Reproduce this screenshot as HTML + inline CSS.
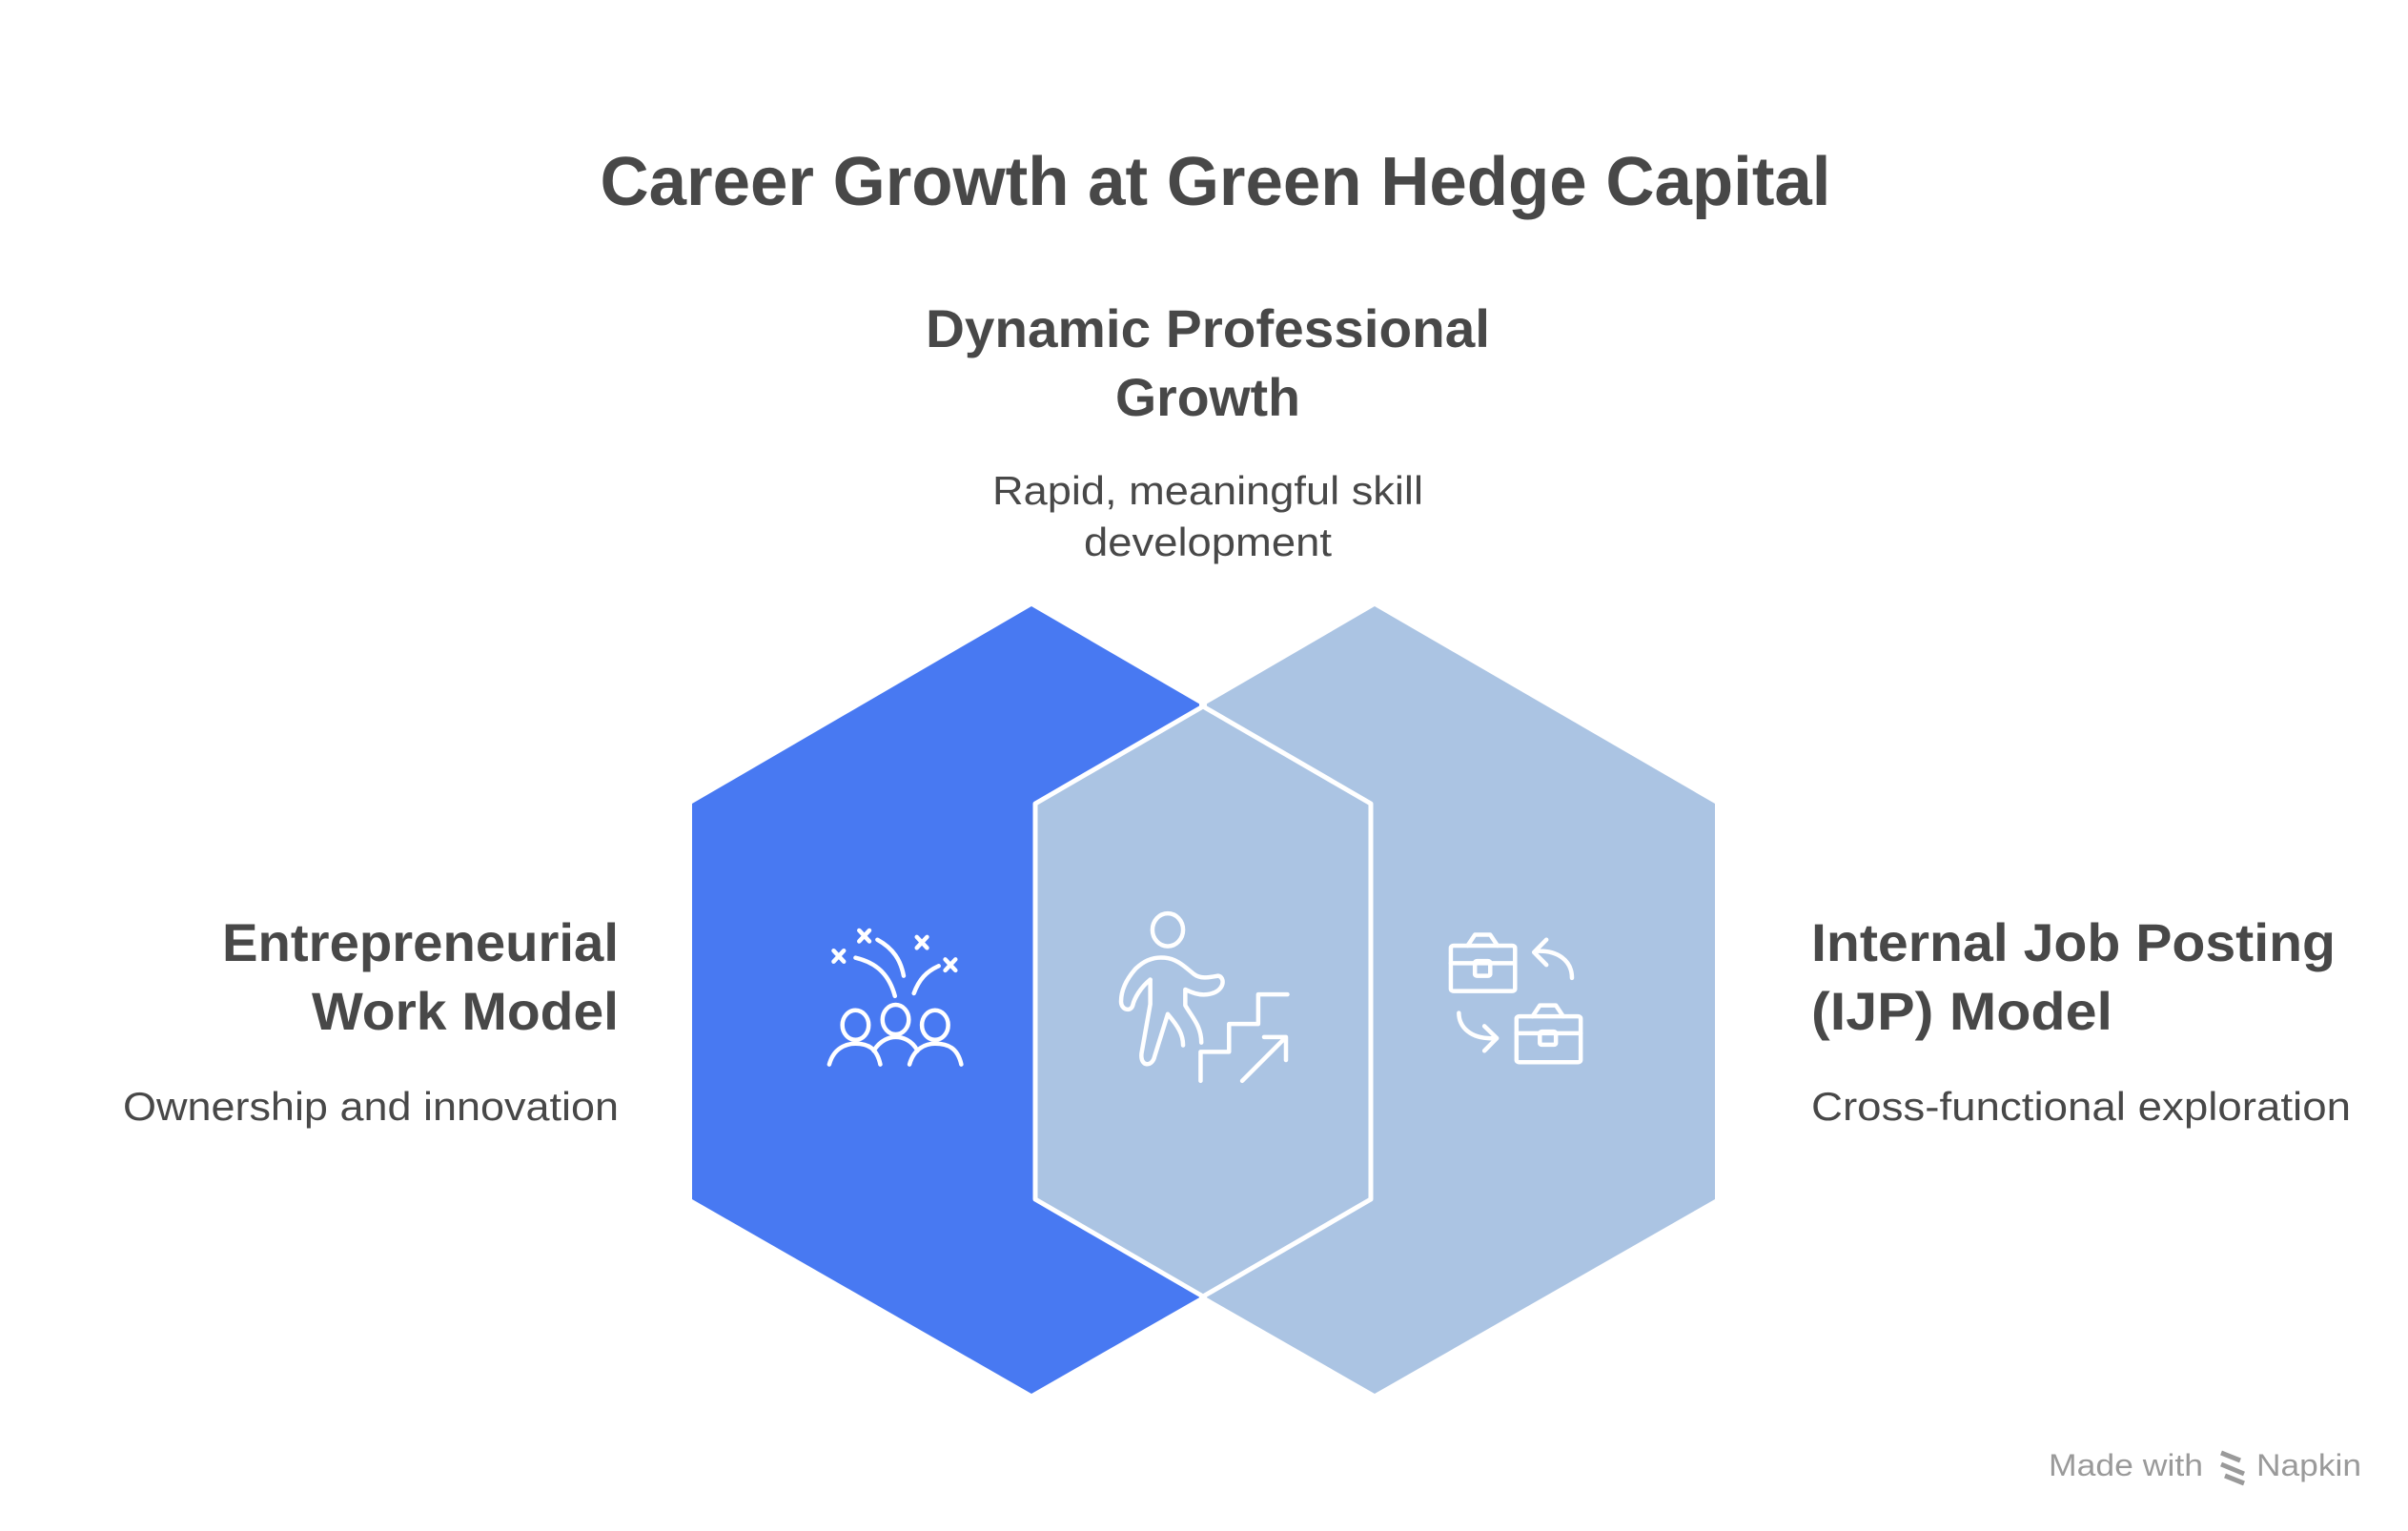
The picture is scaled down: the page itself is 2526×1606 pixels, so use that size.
<!DOCTYPE html>
<html><head><meta charset="utf-8"><style>
html,body{margin:0;padding:0;background:#fff;overflow:hidden;}
svg{display:block;}
text{font-family:"Liberation Sans",sans-serif;fill:#484848;}
</style></head><body>
<svg width="2526" height="1606" viewBox="0 0 2526 1606" xmlns="http://www.w3.org/2000/svg">
<text x="1275" y="215" font-size="72" font-weight="bold" text-anchor="middle" textLength="1291" lengthAdjust="spacingAndGlyphs">Career Growth at Green Hedge Capital</text>
<text x="1267" y="364" font-size="56" font-weight="bold" text-anchor="middle" textLength="592" lengthAdjust="spacingAndGlyphs">Dynamic Professional</text>
<text x="1267" y="436" font-size="56" font-weight="bold" text-anchor="middle" textLength="194" lengthAdjust="spacingAndGlyphs">Growth</text>
<text x="1267" y="529" font-size="42" text-anchor="middle" textLength="452" lengthAdjust="spacingAndGlyphs">Rapid, meaningful skill</text>
<text x="1267" y="583" font-size="42" text-anchor="middle" textLength="260" lengthAdjust="spacingAndGlyphs">development</text>
<text x="649" y="1008" font-size="56" font-weight="bold" text-anchor="end" textLength="416" lengthAdjust="spacingAndGlyphs">Entrepreneurial</text>
<text x="649" y="1080" font-size="56" font-weight="bold" text-anchor="end" textLength="322" lengthAdjust="spacingAndGlyphs">Work Model</text>
<text x="649" y="1175" font-size="42" text-anchor="end" textLength="520" lengthAdjust="spacingAndGlyphs">Ownership and innovation</text>
<text x="1900" y="1008" font-size="56" font-weight="bold" textLength="550" lengthAdjust="spacingAndGlyphs">Internal Job Posting</text>
<text x="1900" y="1080" font-size="56" font-weight="bold" textLength="316" lengthAdjust="spacingAndGlyphs">(IJP) Model</text>
<text x="1900" y="1175" font-size="42" textLength="566" lengthAdjust="spacingAndGlyphs">Cross-functional exploration</text>
<text x="2149" y="1548" font-size="32" style="fill:#9a9a9a" textLength="162" lengthAdjust="spacingAndGlyphs">Made with</text>
<text x="2367" y="1548" font-size="32" style="fill:#9a9a9a" textLength="110" lengthAdjust="spacingAndGlyphs">Napkin</text>
<path d="M2330 1524 l20 8 M2330 1536 l24 10 M2334 1548 l20 8" stroke="#9a9a9a" stroke-width="5"/>

<polygon points="1442,636 1799,843 1799,1258 1442,1462 1086,1258 1086,843" fill="#ABC4E3"/>
<polygon points="1082,636 1438,843 1438,1258 1082,1462 726,1258 726,843" fill="#4879F2"/>
<polygon points="1262,741 1438,843 1438,1258 1262,1360 1086,1258 1086,843" fill="#ABC4E3" stroke="#fff" stroke-width="5" stroke-linejoin="round"/>
<path d="M1262 741 L1262 730 M1262 1360 L1262 1372" stroke="#fff" stroke-width="8"/>

<g transform="translate(700,600) scale(0.7653,0.5740)" fill="none" stroke="#fff" stroke-width="4.5" stroke-linecap="round" stroke-linejoin="round" vector-effect="non-scaling-stroke">
<g vector-effect="non-scaling-stroke">
<ellipse cx="258" cy="828" rx="18" ry="27" vector-effect="non-scaling-stroke"/>
<ellipse cx="313" cy="818" rx="18" ry="27" vector-effect="non-scaling-stroke"/>
<ellipse cx="367" cy="828" rx="18" ry="27" vector-effect="non-scaling-stroke"/>
<path vector-effect="non-scaling-stroke" d="M222 900 C228 870 245 862 258 862 C275 862 287 870 292 900"/>
<path vector-effect="non-scaling-stroke" d="M283 875 C292 855 305 850 313 850 C322 850 335 855 343 875"/>
<path vector-effect="non-scaling-stroke" d="M332 900 C338 870 355 862 367 862 C385 862 398 870 403 900"/>
<path vector-effect="non-scaling-stroke" d="M258 705 C290 715 305 740 312 775"/>
<path vector-effect="non-scaling-stroke" d="M288 672 C310 688 320 710 324 738"/>
<path vector-effect="non-scaling-stroke" d="M338 770 C345 745 355 730 372 720"/>
<path vector-effect="non-scaling-stroke" d="M228 692 l14 20 M242 692 l-14 20"/>
<path vector-effect="non-scaling-stroke" d="M263 655 l14 20 M277 655 l-14 20"/>
<path vector-effect="non-scaling-stroke" d="M342 667 l14 20 M356 667 l-14 20"/>
<path vector-effect="non-scaling-stroke" d="M381 708 l14 20 M395 708 l-14 20"/>

<ellipse cx="686" cy="654" rx="21" ry="30" vector-effect="non-scaling-stroke"/>
<path vector-effect="non-scaling-stroke" d="M662 745 C648 760 640 780 638 792 C635 805 622 800 622 785 C622 760 632 740 642 725 C655 708 668 703 682 705 C700 707 712 725 722 735 C732 745 745 740 755 738 C765 740 765 768 740 772 C728 774 718 768 710 763 L710 792 C720 815 732 830 732 860"/>
<path vector-effect="non-scaling-stroke" d="M662 745 L662 790 L650 880 C648 905 665 905 668 885 L686 808 C700 830 707 845 707 865"/>
<path vector-effect="non-scaling-stroke" d="M731 930 L731 877 L770 877 L770 826 L810 826 L810 772 L850 772"/>
<path vector-effect="non-scaling-stroke" d="M788 930 L848 850 M818 850 L848 850 L848 892"/>

<rect x="1074" y="683" width="88" height="83" rx="4" vector-effect="non-scaling-stroke"/>
<path vector-effect="non-scaling-stroke" d="M1074 715 H1162 M1097 683 L1107 663 L1128 663 L1138 683"/>
<rect x="1107" y="711" width="21" height="27" rx="3" vector-effect="non-scaling-stroke"/>
<rect x="1164" y="812" width="88" height="84" rx="4" vector-effect="non-scaling-stroke"/>
<path vector-effect="non-scaling-stroke" d="M1164 843 H1252 M1186 812 L1196 792 L1218 792 L1228 812"/>
<rect x="1196" y="840" width="22" height="24" rx="3" vector-effect="non-scaling-stroke"/>
<path vector-effect="non-scaling-stroke" d="M1205 672 L1188 695 L1205 718 M1190 693 C1220 690 1240 710 1240 742"/>
<path vector-effect="non-scaling-stroke" d="M1085 806 C1085 830 1100 855 1135 852 M1120 830 L1137 852 L1120 875"/>
</g>
</g>
</svg>
</body></html>
